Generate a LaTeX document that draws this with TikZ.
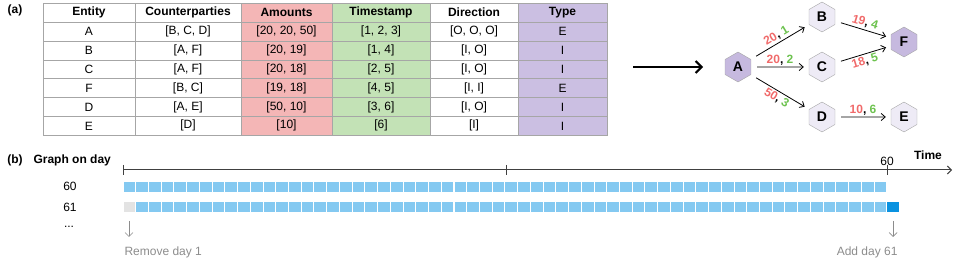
\documentclass[tikz,border=0pt]{standalone}
\usepackage{fontspec}
\setmainfont{Liberation Sans}
\usepackage{tikz}
\usetikzlibrary{arrows.meta, positioning, shapes.geometric}
\definecolor{amtred}{HTML}{F4B6B6}
\definecolor{tsgreen}{HTML}{C3E2B6}
\definecolor{typepurple}{HTML}{CBBFE2}
\definecolor{hexdark}{HTML}{C6B9DF}
\definecolor{hexlight}{HTML}{EEEBF6}
\definecolor{lblred}{HTML}{F06A6A}
\definecolor{lblgreen}{HTML}{6DC24F}
\definecolor{daylight}{HTML}{84C9F1}
\definecolor{daynew}{HTML}{0A92E0}
\definecolor{dayold}{HTML}{E3E3E3}

\begin{document}
\begin{tikzpicture}[x=1pt, y=-1pt,
    cell/.style={draw=black!35, minimum height=18.9pt, inner sep=0pt, font=\fontsize{12}{14}\selectfont},
    head/.style={cell, font=\fontsize{12}{14}\selectfont\bfseries},
    hex/.style={regular polygon, regular polygon sides=6, shape border rotate=30, minimum size=30pt,
                inner sep=0pt, draw=black!35, fill=hexlight, font=\fontsize{14}{16}\selectfont\bfseries},
    edge/.style={-{Straight Barb[length=4pt, width=7pt]}, line width=0.8pt, shorten <=6pt, shorten >=5pt},
    elbl/.style={font=\fontsize{12}{14}\selectfont\bfseries, inner sep=1.5pt, sloped},
    day/.style={fill=daylight, minimum width=11.7pt, minimum height=9.5pt, inner sep=0pt},
    dn/.style={-{Straight Barb[length=4pt, width=8pt]}, draw=black!45, line width=0.7pt},
    note/.style={font=\fontsize{12}{14}\selectfont, text=black!45},
]
    \useasboundingbox (0,0) rectangle (969,261);

    \node[font=\fontsize{12}{14}\selectfont\bfseries] (la) at (15,10) {(a)};

    \node[head, minimum width=92pt] (h1) at (89,12.5) {Entity};
    \node[head, minimum width=106pt] (h2) at (188,12.5) {Counterparties};
    \node[head, minimum width=91pt, fill=amtred] (h3) at (286.5,12.5) {Amounts};
    \node[head, minimum width=98pt, fill=tsgreen] (h4) at (381,12.5) {Timestamp};
    \node[head, minimum width=88pt] (h5) at (474,12.5) {Direction};
    \node[head, minimum width=89pt, fill=typepurple] (h6) at (562.5,12.5) {Type};

    \foreach \ent/\cp/\amt/\ts/\dir/\typ [count=\i] in {
        A/{[B, C, D]}/{[20, 20, 50]}/{[1, 2, 3]}/{[O, O, O]}/E,
        B/{[A, F]}/{[20, 19]}/{[1, 4]}/{[I, O]}/I,
        C/{[A, F]}/{[20, 18]}/{[2, 5]}/{[I, O]}/I,
        F/{[B, C]}/{[19, 18]}/{[4, 5]}/{[I, I]}/E,
        D/{[A, E]}/{[50, 10]}/{[3, 6]}/{[I, O]}/I,
        E/{[D]}/{[10]}/{[6]}/{[I]}/I} {
        \node[cell, minimum width=92pt] (c1-\i) at (89,12.5+18.9*\i) {\ent};
        \node[cell, minimum width=106pt] (c2-\i) at (188,12.5+18.9*\i) {\cp};
        \node[cell, minimum width=91pt, fill=amtred] (c3-\i) at (286.5,12.5+18.9*\i) {\amt};
        \node[cell, minimum width=98pt, fill=tsgreen] (c4-\i) at (381,12.5+18.9*\i) {\ts};
        \node[cell, minimum width=88pt] (c5-\i) at (474,12.5+18.9*\i) {\dir};
        \node[cell, minimum width=89pt, fill=typepurple] (c6-\i) at (562.5,12.5+18.9*\i) {\typ};
    }

    \coordinate (arr-a) at (633,67);
    \coordinate (arr-b) at (703,67);
    \draw[-{Straight Barb[length=6pt, width=12pt]}, line width=2pt] (arr-a) -- (arr-b);

    \node[hex, fill=hexdark] (A) at (738,67) {A};
    \node[hex] (B) at (822,17) {B};
    \node[hex] (C) at (822,67) {C};
    \node[hex] (D) at (822,117) {D};
    \node[hex, fill=hexdark] (F) at (904,42) {F};
    \node[hex] (E) at (904,117) {E};

    \draw[edge] (A) -- node[elbl, above] {\textcolor{lblred}{20}, \textcolor{lblgreen}{1}} (B);
    \draw[edge] (A) -- node[elbl, above] {\textcolor{lblred}{20}, \textcolor{lblgreen}{2}} (C);
    \draw[edge] (A) -- node[elbl, below] {\textcolor{lblred}{50}, \textcolor{lblgreen}{3}} (D);
    \draw[edge] (B) -- node[elbl, above] {\textcolor{lblred}{19}, \textcolor{lblgreen}{4}} (F);
    \draw[edge] (C) -- node[elbl, below] {\textcolor{lblred}{18}, \textcolor{lblgreen}{5}} (F);
    \draw[edge] (D) -- node[elbl, above] {\textcolor{lblred}{10}, \textcolor{lblgreen}{6}} (E);

    \node[font=\fontsize{12}{14}\selectfont\bfseries] (lb) at (15,160) {(b)};
    \node[font=\fontsize{12}{14}\selectfont\bfseries, anchor=west] (gd) at (30,160) {Graph on day};
    \node[font=\fontsize{12}{14}\selectfont] (d60) at (70,186) {60};
    \node[font=\fontsize{12}{14}\selectfont] (d61) at (70,207) {61};
    \node[font=\fontsize{12}{14}\selectfont] (dots) at (69,227) {...};

    \coordinate (t0) at (123,170);
    \coordinate (tmid) at (506,170);
    \coordinate (t60) at (887,170);
    \coordinate (tend) at (952,170);
    \draw[-{Straight Barb[length=4pt, width=8pt]}, line width=1pt, black!75] (t0) -- (tend);
    \foreach \t in {t0, tmid, t60}
        \draw[line width=1pt, black!75] ([yshift=5pt]\t) -- ([yshift=-5pt]\t);
    \node[font=\fontsize{12}{14}\selectfont, above=1pt of t60] (n60) {60};
    \node[font=\fontsize{12}{14}\selectfont\bfseries] (time) at (928,155) {Time};

    \foreach \k in {0,...,59}
        \node[day] (r60-\k) at ({129.37+12.73*\k},187) {};
    \node[day, fill=dayold] (r61-0) at (129.37,207) {};
    \foreach \k in {1,...,59}
        \node[day] (r61-\k) at ({129.37+12.73*\k},207) {};
    \node[day, fill=daynew] (r61-60) at ({129.37+12.73*60},207) {};

    \coordinate (rm-a) at (129,221);
    \coordinate (rm-b) at (129,237);
    \draw[dn] (rm-a) -- (rm-b);
    \node[note, anchor=west] (rm) at (121,252) {Remove day 1};

    \coordinate (add-a) at (893,221);
    \coordinate (add-b) at (893,237);
    \draw[dn] (add-a) -- (add-b);
    \node[note, anchor=east] (add) at (901,252) {Add day 61};
\end{tikzpicture}
\end{document}
